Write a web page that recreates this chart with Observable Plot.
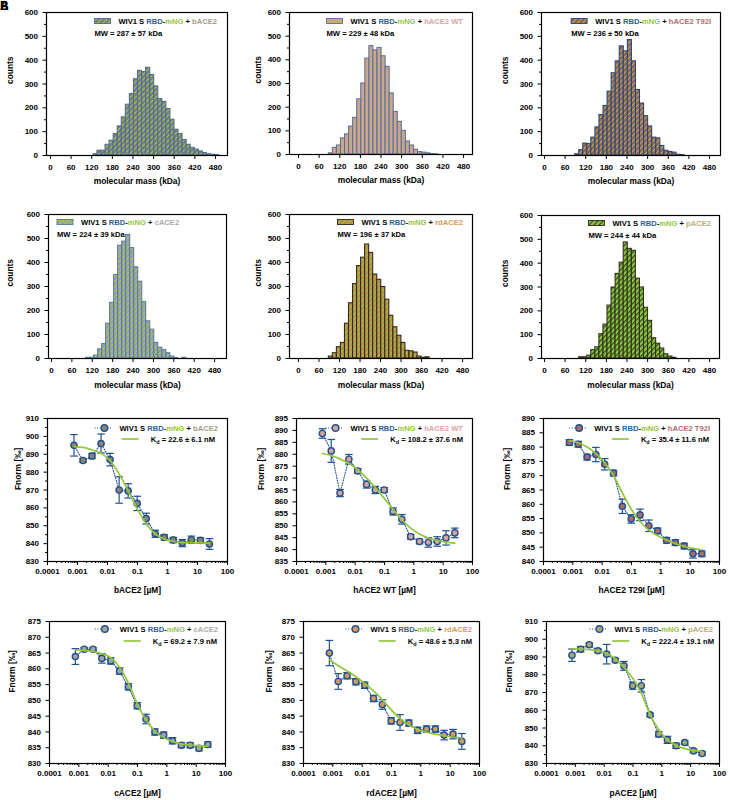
<!DOCTYPE html>
<html><head><meta charset="utf-8">
<script src="https://cdn.jsdelivr.net/npm/d3@7"></script>
<script src="https://cdn.jsdelivr.net/npm/@observablehq/plot@0.6"></script>
<style>
body{margin:0;background:#fff;}
#wrap{position:relative;width:730px;height:800px;overflow:hidden;font-family:"Liberation Sans",Arial,sans-serif;background:#fff;}
#wrap svg{position:absolute;}
.lbl{position:absolute;font-weight:bold;font-size:12px;line-height:12px;}
</style></head><body><div id="wrap"></div>
<script>
// ---------------- DATA ----------------
// Histograms (mass photometry)
const histXTicks = [0, 60, 120, 180, 240, 300, 360, 420, 480];
const histYTicks = [0, 100, 200, 300, 400, 500, 600];
const histYMinor = [50, 150, 250, 350, 450, 550];
const binWidth = 11.8;
const ace2Names = ["bACE2", "hACE2 WT", "hACE2 T92I", "cACE2", "rdACE2", "pACE2"];
const mwTexts = ["MW = 287 ± 57 kDa", "MW = 229 ± 48 kDa", "MW = 236 ± 50 kDa", "MW = 224 ± 39 kDa", "MW = 196 ± 37 kDa", "MW = 244 ± 44 kDa"];
const firstBinCenter = [130.7, 94, 95, 107.7, 94.6, 106.5];
const counts_bACE2 = [5,20,20,45,62,90,122,160,213,258,320,355,350,368,338,290,237,225,195,150,108,90,65,45,32,25,17,10,5,3,2];
const counts_hACE2WT = [5,28,38,68,85,118,155,233,300,405,458,440,450,415,370,258,180,138,100,55,38,20,10,8,5,2,1];
const counts_hACE2T92I = [5,22,50,48,75,118,170,208,268,345,395,458,437,485,395,275,218,165,122,75,72,40,20,15,12,3,2];
const counts_cACE2 = [3,3,12,38,60,145,232,348,470,487,515,460,380,320,235,155,120,65,45,35,22,8,2,0,3];
const counts_rdACE2 = [8,22,47,65,145,230,310,385,420,475,440,350,328,298,245,178,130,95,65,32,30,25,8,3,5];
const counts_pACE2 = [5,5,12,35,47,102,142,222,298,355,402,487,460,452,335,298,213,158,85,62,42,18,8,3];
const histCounts = [counts_bACE2, counts_hACE2WT, counts_hACE2T92I, counts_cACE2, counts_rdACE2, counts_pACE2];

// Binding curves (MST)
const concentrations = [0.000763, 0.00153, 0.00305, 0.0061, 0.0122, 0.0244, 0.0488, 0.0977, 0.195, 0.391, 0.781, 1.5625, 3.125, 6.25, 12.5, 25];
const logTicks = [0.0001, 0.001, 0.01, 0.1, 1, 10, 100];
const logTickLabels = ["0.0001", "0.001", "0.01", "0.1", "1", "10", "100"];
const fnorm_bACE2 = [895, 886.5, 889, 896, 887, 870, 869.5, 862.5, 854, 845.5, 843.5, 842, 840.3, 842.2, 841.8, 839.8];
const sd_bACE2    = [6, 1, 1.5, 5.3, 3.5, 7.4, 4, 4, 3, 2, 1.5, 1.5, 2, 2, 1.5, 3];
const fit_bACE2   = [894.3, 893.8, 892.5, 890.5, 886.5, 879, 869.5, 859.5, 851, 845.5, 842.5, 841.2, 840.7, 840.5, 840.4, 840.3];
const fnorm_hACE2WT = [888.7, 881.4, 863.7, 877.9, 873, 867.3, 865, 865, 856, 852.7, 845.4, 843.4, 843, 843.4, 844.9, 847];
const sd_hACE2WT    = [2, 4.8, 1.5, 2, 1, 1.5, 1.5, 1, 1.5, 2, 1, 1, 2, 2, 3, 2];
const fit_hACE2WT   = [880.3, 879.5, 878, 876.2, 873.5, 870, 866, 861.5, 857, 852.5, 849, 846.5, 844.8, 843.8, 843.1, 842.7];
const fnorm_hACE2T92I = [881.6, 881, 876.5, 877.4, 874, 870.9, 859.3, 854.9, 856.3, 852.5, 850.7, 847.4, 846.6, 845.4, 842.7, 842.7];
const sd_hACE2T92I    = [1, 1, 1, 2.5, 2, 1, 2.5, 1.5, 2, 2, 1, 1, 1, 1, 1.5, 1];
const fit_hACE2T92I   = [882.3, 881.5, 880, 877.8, 874.5, 870, 864, 858.3, 854, 851, 849, 847.5, 846.3, 845.3, 844.6, 844.1];
const fnorm_cACE2 = [863.9, 866.2, 866.2, 863.3, 862.5, 859.3, 854.3, 848.3, 844.1, 840, 839, 837.2, 835.8, 835.8, 834.8, 836];
const sd_cACE2    = [2.5, 0.5, 0.5, 1.5, 1, 1, 1, 1, 1.5, 1, 1, 1, 0.8, 0.8, 0.8, 0.8];
const fit_cACE2   = [866, 865.8, 865.5, 864.8, 863.5, 860.5, 855.5, 849, 843.8, 840.3, 838.2, 837, 836.2, 835.8, 835.6, 835.5];
const fnorm_rdACE2 = [865, 856, 857.8, 855.9, 854.8, 850.6, 848.7, 843.5, 843, 842.8, 840.5, 840.9, 840.9, 839, 839.3, 837];
const sd_rdACE2    = [4, 2.5, 1, 1, 1, 1, 1.5, 1, 2.5, 1, 1, 1, 1, 1.5, 1.5, 2.5];
const fit_rdACE2   = [862.8, 861, 859.3, 857.5, 855.4, 853, 850.2, 847, 844.2, 842.2, 840.8, 839.9, 839.3, 838.8, 838.4, 838.1];
const fnorm_pACE2 = [891, 894.4, 896.9, 893.5, 891.6, 888.2, 885, 873.8, 873.8, 857.4, 846.5, 843.3, 840, 841.8, 837.1, 835.6];
const sd_pACE2    = [3.5, 1.5, 1, 1, 5.5, 1, 2.5, 2, 3.5, 1, 1.5, 2, 1.5, 1, 1, 1];
const fit_pACE2   = [894.6, 894.5, 894.2, 893.5, 892, 889, 884, 878, 869.5, 857.5, 849, 843.3, 840.2, 838.4, 837.4, 836.9];
const bindFnorm = [fnorm_bACE2, fnorm_hACE2WT, fnorm_hACE2T92I, fnorm_cACE2, fnorm_rdACE2, fnorm_pACE2];
const bindSD = [sd_bACE2, sd_hACE2WT, sd_hACE2T92I, sd_cACE2, sd_rdACE2, sd_pACE2];
const bindFit = [fit_bACE2, fit_hACE2WT, fit_hACE2T92I, fit_cACE2, fit_rdACE2, fit_pACE2];
const kdTexts = ["22.6 ± 6.1 nM", "108.2 ± 37.6 nM", "35.4 ± 11.6 nM", "69.2 ± 7.9 nM", "48.6 ± 5.3 nM", "222.4 ± 19.1 nM"];
const bindXLabels = ["bACE2 [µM]", "hACE2 WT [µM]", "hACE2 T29I [µM]", "cACE2 [µM]", "rdACE2 [µM]", "pACE2 [µM]"];
const bindYTicks = [
  [830, 840, 850, 860, 870, 880, 890, 900, 910],
  [835, 840, 845, 850, 855, 860, 865, 870, 875, 880, 885, 890, 895],
  [840, 845, 850, 855, 860, 865, 870, 875, 880, 885, 890],
  [830, 835, 840, 845, 850, 855, 860, 865, 870, 875],
  [830, 835, 840, 845, 850, 855, 860, 865, 870, 875],
  [830, 840, 850, 860, 870, 880, 890, 900, 910]
];
const bindYMinor = [
  [835, 845, 855, 865, 875, 885, 895, 905], [], [], [], [],
  [835, 845, 855, 865, 875, 885, 895, 905]
];

// ---------------- STYLE / LAYOUT ----------------
const FONT = "Liberation Sans, Arial, Helvetica, sans-serif";
const BLUE = "#22508c", RBD = "#2f5f99", GREEN = "#93c63c";
const ace2Text = ["#a39b8b", "#d8a4a4", "#b06c6c", "#a9a9a9", "#d69a5a", "#b5b080"];
const ace2Fill = ["#8d8573", "#d7a3a3", "#a86c6a", "#a3a3a3", "#cf9b5f", "#aaa67c"];
const hatchBase = ["#787e86", "#d49aa6", "#92606c", "#9aa0a8", "#bd8850", "#8dc63f"];
const hatchStripe = ["#a6d23c", "#a6d23c", "#a6d23c", "#a6d23c", "#9cc43a", "#3a4422"];
const hatchStripeW = [0.9, 0.8, 0.8, 0.9, 1.3, 1.2];
const hatchEdge = ["#4e6c8e", "#5a7096", "#2c4468", "#5479a4", "#2e2418", "#2a2e1c"];
const ML = 45, MR = 10, MT = 10, MB = 37;
const histGeom = [
  {L: 46, T: 12, R: 227, B: 155, xd: [-11.6, 515], ylab: -36, xlab: 28, ly1: 9, ly2: 21, right: 10},
  {L: 289, T: 12, R: 472, B: 154, xd: [-26.2, 506], ylab: -31, xlab: 28, ly1: 9, ly2: 21, right: 9},
  {L: 541, T: 12, R: 720, B: 155, xd: [-8.7, 512], ylab: -36, xlab: 28, ly1: 9, ly2: 21, right: 9},
  {L: 48, T: 214, R: 226, B: 358, xd: [-8.8, 515], ylab: -38, xlab: 29, ly1: 8, ly2: 20, left: 9},
  {L: 289, T: 214, R: 472, B: 358, xd: [-26.3, 509], ylab: -31, xlab: 29, ly1: 8, ly2: 20, right: 9},
  {L: 541, T: 215, R: 719, B: 358, xd: [-8.7, 509], ylab: -36, xlab: 29, ly1: 8, ly2: 20, right: 8}
];
const bindGeom = [
  {L: 47, T: 418, R: 227, B: 561, ylab: -29, xlab: 31, ly1: 10, ly2: 21, r1: 9, r2: 12},
  {L: 296, T: 418, R: 472, B: 561, ylab: -35, xlab: 31, ly1: 10, ly2: 21, r1: 9, r2: 9},
  {L: 543, T: 418, R: 719, B: 561, ylab: -36, xlab: 31, ly1: 10, ly2: 21, r1: 9, r2: 10},
  {L: 49, T: 621, R: 225, B: 763, ylab: -37, xlab: 32, ly1: 8, ly2: 20, r1: 7, r2: 8},
  {L: 303, T: 621, R: 479, B: 763, ylab: -34, xlab: 32, ly1: 8, ly2: 20, r1: 7, r2: 7},
  {L: 546, T: 621, R: 719, B: 763, ylab: -37, xlab: 32, ly1: 8, ly2: 20, r1: 6, r2: 5}
];

const ns = "http://www.w3.org/2000/svg";
const wrap = document.getElementById("wrap");
const baseStyle = {fontFamily: FONT, fontSize: "8px", fontWeight: "bold", color: "#000", background: "transparent", overflow: "visible", maxWidth: "none"};

function place(svg, L, T) {
  svg.style.left = (L - ML) + "px";
  svg.style.top = (T - MT) + "px";
  wrap.appendChild(svg);
}
function patternMark(id, base, stripe, sw) {
  return () => {
    const defs = document.createElementNS(ns, "defs");
    const p = document.createElementNS(ns, "pattern");
    p.setAttribute("id", id);
    p.setAttribute("patternUnits", "userSpaceOnUse");
    p.setAttribute("width", "3.6"); p.setAttribute("height", "3.6");
    p.setAttribute("patternTransform", "rotate(45)");
    const r1 = document.createElementNS(ns, "rect");
    r1.setAttribute("width", "3.6"); r1.setAttribute("height", "3.6"); r1.setAttribute("fill", base);
    const r2 = document.createElementNS(ns, "rect");
    r2.setAttribute("width", String(sw)); r2.setAttribute("height", "3.6"); r2.setAttribute("fill", stripe);
    p.append(r1, r2); defs.append(p);
    return defs;
  };
}
function legendText(s, x, y, parts) {
  const t = s.append("text").attr("x", x).attr("y", y).attr("dy", "0.35em")
    .attr("font-size", 7.6).attr("font-weight", "bold").attr("font-family", FONT).attr("text-anchor", "start");
  parts.forEach(([str, col]) => t.append("tspan").attr("fill", col).text(str));
  return t;
}

// ---------------- HISTOGRAMS ----------------
histCounts.forEach((counts, i) => {
  const g = histGeom[i];
  const bins = counts.map((c, j) => ({
    x1: firstBinCenter[i] + j * binWidth - binWidth / 2,
    x2: firstBinCenter[i] + j * binWidth + binWidth / 2,
    y1: 0, y2: c
  }));
  const id = "hatch" + i;
  const svg = Plot.plot({
    width: g.R - g.L + ML + MR, height: g.B - g.T + MT + MB,
    marginLeft: ML, marginRight: MR, marginTop: MT, marginBottom: MB,
    style: baseStyle,
    x: {domain: g.xd, axis: null, label: null},
    y: {domain: [0, 600], axis: null, label: null},
    marks: [
      patternMark(id, hatchBase[i], hatchStripe[i], hatchStripeW[i]),
      Plot.rect(bins, {x1: "x1", x2: "x2", y1: "y1", y2: "y2", fill: `url(#${id})`, stroke: hatchEdge[i], strokeWidth: 1.05}),
      Plot.frame({stroke: "#000", strokeWidth: 1.2}),
      Plot.axisX(histXTicks, {tickSize: 4, tickPadding: 5, label: null}),
      Plot.axisY(histYTicks, {tickSize: 3.5, tickPadding: 5, label: null}),
      Plot.axisY(histYMinor, {tickSize: 2, tickFormat: () => "", label: null}),
      Plot.text(["molecular mass (kDa)"], {text: d => d, frameAnchor: "bottom", dy: g.xlab, fontSize: 8.4}),
      Plot.text(["counts"], {text: d => d, frameAnchor: "left", rotate: -90, dx: g.ylab, fontSize: 8.4})
    ]
  });
  place(svg, g.L, g.T);
  const s = d3.select(svg);
  const fl = ML, ft = MT, fr = ML + (g.R - g.L);
  const t = legendText(s, 0, ft + g.ly1, [["WIV1 S ", "#000"], ["RBD", RBD], ["-", "#000"], ["mNG", GREEN], [" + ", "#000"], [ace2Names[i], ace2Text[i]]]);
  const w = t.node().getComputedTextLength();
  let sx, tx;
  if (g.left != null) { sx = fl + g.left; tx = sx + 24; }
  else { tx = fr - g.right - w; sx = tx - 24; }
  t.attr("x", tx);
  s.append("rect").attr("x", sx).attr("y", ft + g.ly1 - 2.5).attr("width", 16).attr("height", 5)
    .attr("fill", `url(#${id})`).attr("stroke", hatchEdge[i]).attr("stroke-width", 0.9);
  legendText(s, sx, ft + g.ly2, [[mwTexts[i], "#000"]]);
});

// ---------------- BINDING CURVES ----------------
const minorLog = [];
for (let k = -4; k <= 1; k++) for (let m = 2; m <= 9; m++) minorLog.push(m * Math.pow(10, k));
const capSymbol = {draw(ctx, size) { const r = Math.sqrt(size / Math.PI); ctx.moveTo(-r, 0); ctx.lineTo(r, 0); }};

bindFnorm.forEach((vals, i) => {
  const g = bindGeom[i];
  const yt = bindYTicks[i];
  const data = concentrations.map((c, j) => ({c, f: vals[j], lo: vals[j] - bindSD[i][j], hi: vals[j] + bindSD[i][j]}));
  const fit = concentrations.map((c, j) => ({c, f: bindFit[i][j]}));
  const svg = Plot.plot({
    width: g.R - g.L + ML + MR, height: g.B - g.T + MT + MB,
    marginLeft: ML, marginRight: MR, marginTop: MT, marginBottom: MB,
    style: baseStyle,
    x: {type: "log", domain: [1e-4, 100], axis: null, label: null},
    y: {domain: [yt[0], yt[yt.length - 1]], axis: null, label: null},
    marks: [
      Plot.frame({stroke: "#000", strokeWidth: 1.2}),
      Plot.axisX(logTicks, {tickSize: 4, tickPadding: 3, label: null, tickFormat: d => logTickLabels[logTicks.indexOf(d)]}),
      Plot.axisX(minorLog, {tickSize: 2, tickFormat: () => "", label: null}),
      Plot.axisY(yt, {tickSize: 3.5, tickPadding: 5, label: null}),
      Plot.axisY(bindYMinor[i], {tickSize: 2, tickFormat: () => "", label: null}),
      Plot.ruleX(data, {x: "c", y1: "lo", y2: "hi", stroke: BLUE, strokeWidth: 1.2}),
      Plot.dot(data, {x: "c", y: "lo", r: 3.8, symbol: capSymbol, fill: "none", stroke: BLUE, strokeWidth: 1.2}),
      Plot.dot(data, {x: "c", y: "hi", r: 3.8, symbol: capSymbol, fill: "none", stroke: BLUE, strokeWidth: 1.2}),
      Plot.line(data, {x: "c", y: "f", stroke: BLUE, strokeWidth: 1.1, strokeDasharray: "1,1.6"}),
      Plot.dot(data, {x: "c", y: "f", r: 3.1, fill: ace2Fill[i], stroke: BLUE, strokeWidth: 1.4}),
      Plot.line(fit, {x: "c", y: "f", stroke: GREEN, strokeWidth: 1.7, curve: "monotone-x"}),
      Plot.text([bindXLabels[i]], {text: d => d, frameAnchor: "bottom", dy: g.xlab, fontSize: 8.4}),
      Plot.text(["Fnorm [‰]"], {text: d => d, frameAnchor: "left", rotate: -90, dx: g.ylab, fontSize: 8.4})
    ]
  });
  place(svg, g.L, g.T);
  const s = d3.select(svg);
  const ft = MT, fr = ML + (g.R - g.L);
  const t1 = legendText(s, 0, ft + g.ly1, [["WIV1 S ", "#000"], ["RBD", RBD], ["-", "#000"], ["mNG", GREEN], [" + ", "#000"], [ace2Names[i], ace2Text[i]]]);
  const w1 = t1.node().getComputedTextLength();
  const tx1 = fr - g.r1 - w1;
  t1.attr("x", tx1);
  const cx = tx1 - 15, cy = ft + g.ly1;
  s.append("line").attr("x1", cx - 10).attr("x2", cx + 8).attr("y1", cy).attr("y2", cy)
    .attr("stroke", BLUE).attr("stroke-width", 1.1).attr("stroke-dasharray", "1,1.6");
  s.append("circle").attr("cx", cx).attr("cy", cy).attr("r", 3.3).attr("fill", ace2Fill[i]).attr("stroke", BLUE).attr("stroke-width", 1.4);
  const t2 = s.append("text").attr("y", ft + g.ly2).attr("dy", "0.35em").attr("font-size", 7.6)
    .attr("font-weight", "bold").attr("font-family", FONT).attr("text-anchor", "start").attr("fill", "#000");
  t2.append("tspan").text("K");
  t2.append("tspan").attr("font-size", 5.5).attr("dy", 2).text("d");
  t2.append("tspan").attr("dy", -2).text(" = " + kdTexts[i]);
  const w2 = t2.node().getComputedTextLength();
  const tx2 = fr - g.r2 - w2;
  t2.attr("x", tx2);
  s.append("line").attr("x1", tx2 - 29).attr("x2", tx2 - 12).attr("y1", ft + g.ly2).attr("y2", ft + g.ly2)
    .attr("stroke", GREEN).attr("stroke-width", 1.7);
});

// panel letters
["A", "B"].forEach(l => {
  const d = document.createElement("div");
  d.className = "lbl"; d.style.left = "0px"; d.style.top = "0px"; d.textContent = l;
  wrap.appendChild(d);
});
</script></body></html>
